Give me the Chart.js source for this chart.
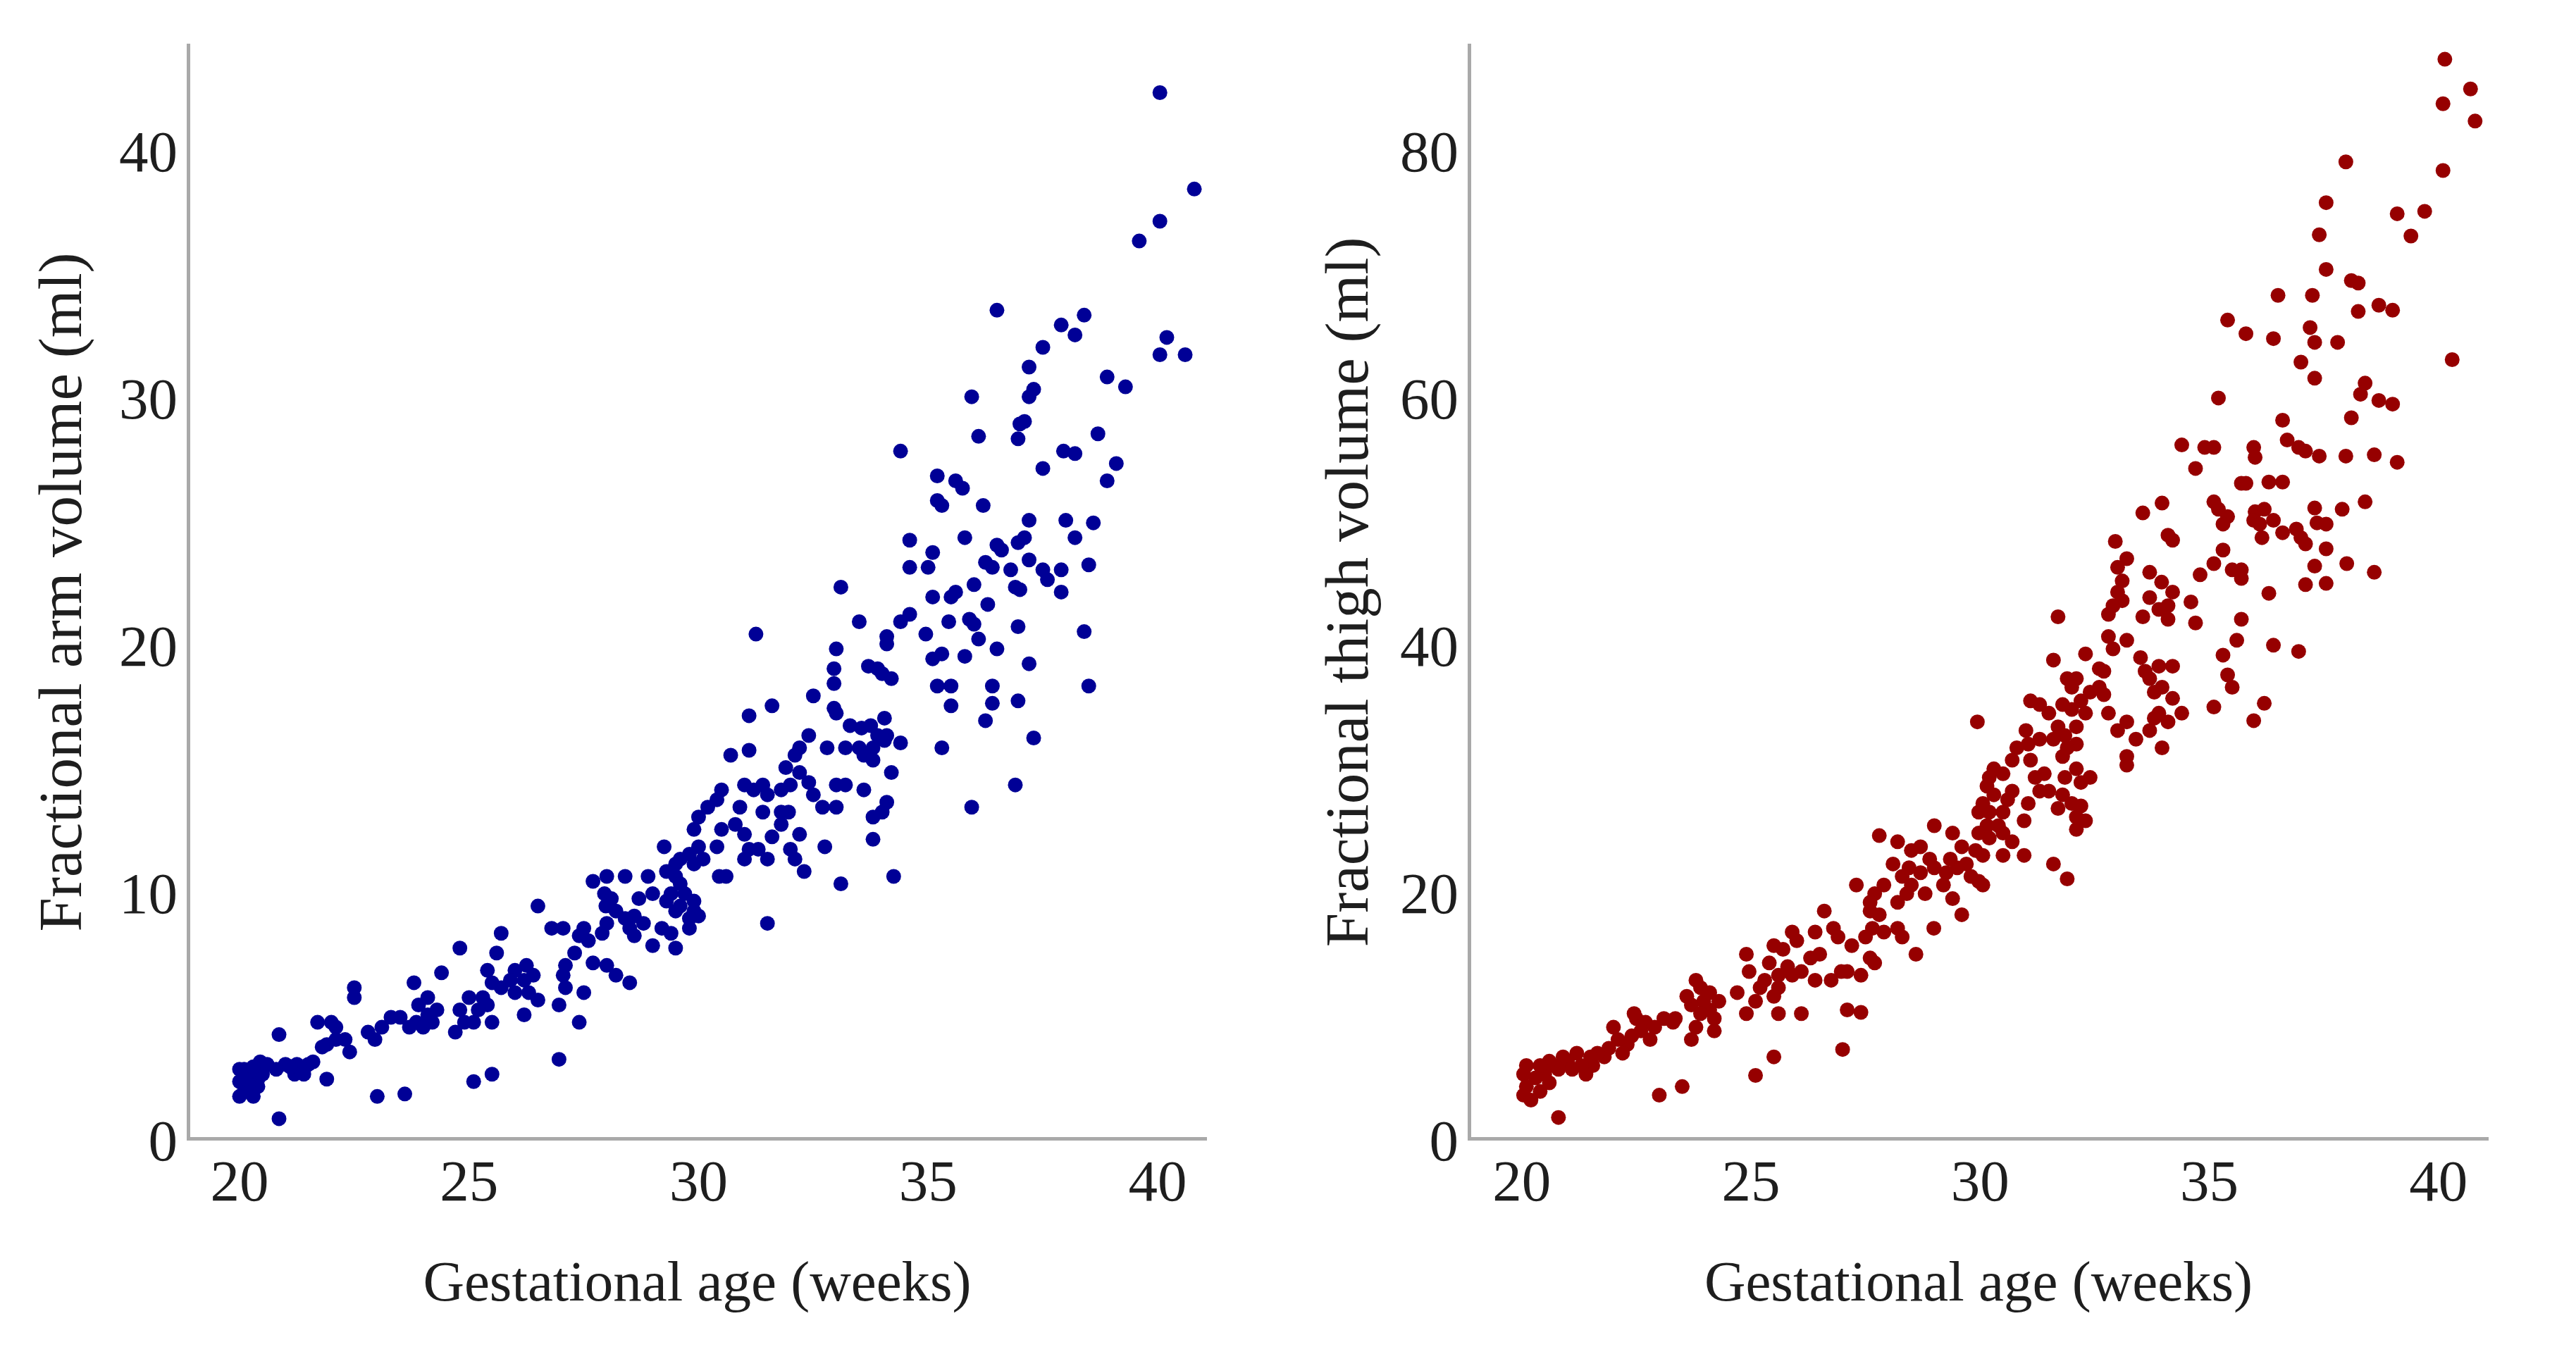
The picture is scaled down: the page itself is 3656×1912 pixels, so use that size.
<!DOCTYPE html>
<html><head><meta charset="utf-8">
<script src="https://cdn.jsdelivr.net/npm/chart.js@4.4.0/dist/chart.umd.min.js"></script>
<style>
html,body{margin:0;padding:0;background:#fff;}
#wrap{position:relative;width:3656px;height:1912px;background:#fff;}
.panel{position:absolute;top:0;width:1828px;height:1912px;}
</style></head><body>
<div id="wrap">
<div class="panel" style="left:0"><canvas id="c1" width="1828" height="1912"></canvas></div>
<div class="panel" style="left:1828px"><canvas id="c2" width="1828" height="1912"></canvas></div>
</div>
<script>
const ageTicks = [20, 25, 30, 35, 40];
const armTicks = [0, 10, 20, 30, 40];
const thighTicks = [0, 20, 40, 60, 80];
const xTitle = 'Gestational age (weeks)';
const armTitle = 'Fractional arm volume (ml)';
const thighTitle = 'Fractional thigh volume (ml)';

const armAge = [40.05,40.8,39.6,40.05,40.2,40.05,40.6,38.9,39.3,38.7,39.1,38.9,36.5,38.4,37.9,38.2,37.5,37.2,37.3,37.2,37.1,37.0,36.96,35.95,36.1,34.4,37.95,38.2,37.5,35.2,35.6,35.75,35.2,35.3,36.2,37.2,38.0,38.6,35.8,36.96,37.1,38.2,34.6,35.1,36.5,36.6,34.6,35.0,36.25,36.4,36.8,37.2,37.5,38.5,37.9,37.6,36.9,37.0,36.0,35.6,35.5,35.1,36.3,37.9,35.9,35.45,34.95,34.6,34.4,36.96,36.0,36.1,38.4,35.1,35.3,35.8,36.5,35.2,35.5,36.4,35.5,36.4,37.2,38.5,36.96,36.25,37.3,35.3,35.95,36.9,
33.1,33.5,33.0,32.95,32.95,33.7,33.9,34.0,34.2,34.1,34.1,32.5,31.6,31.1,31.25,32.95,33.0,33.3,33.55,33.75,34.05,33.9,34.1,32.4,32.2,32.8,33.2,33.5,33.8,34.05,34.4,33.6,33.8,34.2,32.1,31.9,32.2,32.4,32.0,31.8,33.0,33.2,33.6,32.5,32.7,33.0,34.1,34.0,33.8,33.8,32.75,34.25,33.1,32.2,32.3,32.1,32.0,31.96,31.8,31.6,31.5,31.3,31.5,31.1,30.7,31.0,31.2,31.4,31.5,31.4,31.8,30.9,30.5,30.4,30.2,30.0,30.8,31.0,31.1,31.0,30.5,30.4,30.45,30.6,29.9,30.0,29.8,29.6,29.9,30.1,29.5,29.25,29.3,29.5,29.6,29.4,29.7,29.9,29.6,29.5,28.9,29.0,29.3,29.9,30.0,29.8,29.8,29.2,29.4,29.0,29.5,28.8,28.7,28.6,28.4,28.0,27.7,27.95,28.1,27.98,28.2,28.4,28.5,28.6,28.0,27.9,27.5,27.4,27.6,27.3,27.7,28.0,28.2,28.5,27.5,27.4,27.05,26.8,27.1,27.05,27.1,26.96,26.96,26.5,26.25,26.4,26.2,26.0,25.9,25.7,26.0,26.3,26.5,26.2,25.7,25.6,25.4,25.5,25.3,25.4,25.2,25.0,24.8,24.9,25.1,25.5,24.8,24.7,25.1,25.5,24.4,24.1,23.9,23.8,24.1,24.2,24.3,23.85,24.0,23.7,23.5,23.3,23.1,22.95,22.8,22.5,22.5,22.3,22.4,22.1,22.1,21.9,22.0,21.7,21.8,21.9,23.0,23.6,20.86,20.86,21.5,21.4,21.25,21.2,21.0,20.8,20.6,20.45,20.5,20.4,20.2,20.1,20.0,20.1,20.3,20.0,20.4,20.0,20.2,20.1,20.3,21.6,21.1];
const armVolume = [42.3,38.4,36.3,37.1,32.4,31.7,31.7,30.8,30.4,28.5,27.3,26.6,33.5,33.3,32.9,32.5,32.0,31.2,30.3,30.0,29.0,28.9,28.3,30.0,28.4,27.8,27.8,27.7,27.1,26.8,26.6,26.3,25.8,25.6,25.6,25.0,25.0,24.9,24.3,24.1,24.3,24.3,24.2,23.7,24.0,23.8,23.1,23.1,23.3,23.1,23.0,23.4,23.0,23.2,23.0,22.6,22.3,22.2,22.4,22.1,21.9,21.9,21.6,22.1,21.0,20.9,20.4,21.2,20.9,20.7,20.8,20.2,20.5,19.4,19.6,19.5,19.8,18.3,18.3,18.3,17.5,17.6,19.2,18.3,17.7,16.9,16.2,15.8,13.4,14.3,
22.3,20.9,19.8,19.0,18.4,19.1,19.0,18.8,18.6,20.3,20.0,17.9,17.5,17.1,20.4,17.4,17.2,16.7,16.6,16.7,17.0,16.3,16.3,16.3,15.8,15.8,15.8,15.8,15.8,16.1,16.0,15.5,15.3,14.8,15.5,15.0,14.8,14.4,14.3,14.1,14.3,14.3,14.1,13.9,13.4,13.4,13.6,13.2,13.0,12.1,11.8,10.6,10.3,12.3,10.8,11.3,11.7,13.2,12.7,12.2,11.3,11.7,8.7,15.7,15.5,14.3,14.1,14.3,13.9,13.2,13.2,13.4,14.1,13.7,13.4,13.0,12.7,12.3,11.7,11.3,12.5,11.8,10.6,10.6,12.5,11.8,11.5,11.3,11.1,11.3,11.1,11.8,10.8,10.6,10.3,9.9,9.9,9.6,9.4,9.2,10.6,9.9,9.6,9.2,9.0,8.9,8.5,8.5,8.3,7.8,7.7,8.7,9.7,9.0,10.6,10.6,10.4,9.9,9.7,9.4,9.2,8.9,8.5,8.2,8.7,8.3,8.5,8.2,8.0,7.5,7.1,7.0,6.6,6.3,5.9,4.7,8.5,8.5,7.0,6.6,6.1,5.4,3.2,9.4,7.0,6.6,6.4,6.8,6.4,6.1,5.9,5.9,5.6,5.0,8.3,7.5,6.8,6.3,5.7,5.4,5.2,5.7,5.2,4.7,4.7,4.7,7.7,4.3,2.3,2.6,6.7,5.7,5.4,6.3,5.0,4.7,5.2,4.7,4.5,4.5,4.9,4.9,4.5,4.0,4.3,6.1,5.7,4.0,3.5,4.5,4.0,3.8,4.7,4.7,3.7,2.4,1.7,1.8,0.8,4.2,3.0,2.6,3.0,2.6,3.0,2.8,3.0,3.1,2.6,2.4,2.6,2.8,2.3,1.9,1.7,1.7,2.1,2.8,2.2,2.4,2.9,3.1,2.9];

const thighAge = [40.14,40.7,40.1,40.8,40.1,40.3,37.98,37.55,39.1,39.7,39.4,37.4,37.55,38.1,38.25,37.25,36.5,38.25,38.7,39.0,35.4,35.8,36.4,37.2,37.3,37.8,37.0,37.3,35.2,38.4,38.3,38.7,39.0,36.6,38.1,36.7,34.4,34.9,35.1,35.97,36.0,36.95,37.1,37.4,37.98,38.6,39.1,34.7,35.7,35.8,36.3,36.6,33.97,33.55,35.1,35.2,36.0,36.2,37.3,37.9,38.4,35.4,35.3,35.97,36.1,36.4,36.9,37.35,37.55,36.6,36.15,37.0,37.1,37.55,38.0,38.6,37.3,37.1,37.55,35.3,35.1,34.8,35.5,35.7,35.7,36.3,36.4,36.95,35.7,35.6,35.3,35.4,35.5,35.1,36.2,35.97,
34.6,34.7,34.1,34.2,33.7,33.96,34.1,34.2,33.7,33.9,34.1,33.55,33.0,33.1,32.9,33.1,32.95,33.2,33.0,32.8,32.8,33.2,32.9,32.6,32.7,32.6,33.5,33.6,33.7,33.9,34.2,33.8,33.97,34.2,33.9,33.8,34.4,34.1,33.97,33.7,33.2,33.0,32.8,32.7,32.4,33.2,33.2,33.4,31.7,31.6,32.3,32.1,31.9,32.0,32.2,32.3,32.0,31.8,31.3,31.1,31.5,31.7,31.85,32.1,32.1,31.9,31.8,31.6,31.3,31.0,31.05,30.8,30.7,31.1,31.4,31.85,32.1,32.2,32.4,31.2,31.3,31.8,32.0,32.2,32.1,32.3,32.1,31.7,31.5,31.05,30.96,31.6,31.9,
29.94,30.3,30.2,30.5,30.7,30.6,30.3,30.15,30.06,29.97,30.2,30.5,30.4,30.15,29.97,30.2,30.5,30.7,30.96,30.5,30.06,29.9,29.6,29.4,29.7,29.97,30.06,29.8,29.5,29.35,29.26,29.2,29.4,29.6,29.0,29.0,28.7,28.5,28.9,28.7,28.45,28.3,28.5,28.8,28.99,28.4,28.2,28.1,28.2,27.8,27.9,27.7,27.6,27.6,27.8,27.65,28.2,27.9,27.5,27.6,27.7,27.2,27.1,27.3,28.3,28.6,27.4,26.97,26.75,26.6,26.8,26.4,26.5,26.3,26.1,26.4,26.0,25.9,25.7,25.9,26.1,25.8,25.5,25.4,25.6,25.6,25.5,25.6,25.3,25.2,25.1,24.96,24.9,24.9,24.7,25.5,25.1,27.0,27.1,27.4,26.9,
24.3,24.2,24.2,24.1,23.97,23.9,23.8,24.1,23.7,23.9,23.8,23.7,23.6,23.35,23.3,23.1,22.9,22.7,22.6,22.8,22.5,22.45,22.4,22.3,22.1,22.0,21.9,22.2,21.8,21.65,21.55,21.5,21.4,21.3,21.2,21.1,21.0,20.9,20.8,20.7,20.6,20.5,20.4,20.3,20.1,20.04,20.1,20.04,20.2,20.4,20.6,20.8,23.0,23.5];
const thighVolume = [87.3,84.9,83.7,82.3,78.3,63.0,79.0,75.7,74.8,75.0,73.0,73.1,70.3,69.4,69.2,68.2,68.2,66.9,67.4,67.0,66.2,65.1,64.7,65.6,64.4,64.4,62.8,61.5,59.9,61.1,60.2,59.7,59.4,58.1,58.3,56.5,56.1,55.9,55.9,55.9,55.1,55.9,55.6,55.2,55.2,55.3,54.7,54.2,53.0,53.0,53.1,53.1,51.4,50.6,51.5,50.9,50.7,50.9,51.0,50.9,51.5,50.3,49.7,50.0,49.7,50.0,49.3,49.8,49.7,49.0,48.6,48.6,48.1,47.7,46.5,45.8,46.3,44.8,44.9,47.6,46.5,45.6,46.0,46.0,45.3,44.1,39.9,39.4,42.0,40.3,39.1,37.5,36.5,34.9,35.2,33.8,
43.4,41.7,43.1,44.2,45.8,45.0,48.8,48.4,43.75,42.8,42.0,42.2,44.2,43.5,43.1,45.1,48.3,46.9,46.2,42.4,40.6,40.3,39.6,38.0,37.8,36.5,38.9,37.8,37.2,38.2,38.2,36.1,36.5,35.6,34.4,34.0,34.4,33.7,31.6,33.0,33.7,33.0,34.4,35.9,36.1,30.2,30.9,32.3,42.2,38.7,39.2,37.2,37.2,36.5,35.4,34.4,34.7,35.1,35.1,35.4,34.4,33.3,32.6,33.3,31.9,31.6,30.9,32.3,32.3,33.0,31.9,31.6,30.6,30.6,29.5,29.2,29.9,28.8,29.2,29.2,28.1,27.8,27.1,26.9,26.0,25.7,25.0,26.7,28.1,27.1,25.7,22.2,21.0,
33.7,29.9,29.2,29.5,28.1,27.4,27.8,28.5,27.1,26.4,26.4,26.4,25.3,25.3,24.7,24.3,24.7,24.0,22.9,22.9,22.9,23.3,23.6,24.7,22.2,20.8,20.5,21.2,21.9,22.6,21.5,20.5,19.4,18.1,21.9,25.3,23.6,23.3,22.6,21.5,21.9,21.2,20.5,19.8,17.0,19.8,19.1,22.2,24.0,24.5,20.5,19.8,19.1,18.4,18.1,17.0,17.0,16.7,16.3,14.6,14.2,15.6,13.5,20.5,16.3,14.9,13.2,13.5,12.8,18.4,17.0,16.7,14.9,14.6,13.5,12.8,16.0,16.7,15.3,13.2,10.1,13.9,15.6,14.2,13.2,12.2,11.5,10.1,12.8,12.2,11.1,13.5,14.9,10.1,11.8,6.6,5.1,7.2,10.4,10.2,16.3,
11.1,9.7,8.7,10.4,11.1,12.2,12.8,11.8,10.8,10.1,9.0,8.0,11.5,9.7,9.4,9.7,9.0,9.4,8.7,8.0,9.7,10.1,8.3,7.6,8.0,9.0,7.3,6.9,6.6,6.9,5.9,6.6,5.2,5.9,6.9,5.6,6.25,6.6,5.6,5.9,6.25,5.2,5.9,4.9,5.9,5.2,4.2,3.5,3.1,3.8,4.5,1.7,3.5,4.2];

function buildPoints(xs, ys) {
  const n = Math.min(xs.length, ys.length);
  const out = [];
  for (let i = 0; i < n; i++) out.push({x: xs[i], y: ys[i]});
  return out;
}

const FONT = '"Liberation Serif", "Times New Roman", serif';
const TXT = '#1e1e1e';
const AXIS = '#a9a9a9';

function makeChart(id, xs, ys, color, yTicks, yMax, xMin, xMax, yTitle, yAxisWidth, padRight, yTitlePad) {
  return new Chart(document.getElementById(id), {
    type: 'scatter',
    data: { datasets: [{ data: buildPoints(xs, ys), backgroundColor: color, borderColor: color, borderWidth: 0, pointRadius: 10.5, pointHoverRadius: 10.5 }] },
    options: {
      responsive: false, animation: false, devicePixelRatio: 1,
      layout: { padding: { top: 55, right: padRight, left: 0, bottom: 0 } },
      plugins: { legend: { display: false }, tooltip: { enabled: false } },
      events: [],
      scales: {
        x: {
          type: 'linear', min: xMin, max: xMax,
          afterBuildTicks: s => { s.ticks = ageTicks.map(v => ({ value: v })); },
          afterFit: s => { s.height = 296; },
          grid: { display: false, drawTicks: false },
          border: { display: true, color: AXIS, width: 5 },
          ticks: { font: { family: FONT, size: 83 }, color: TXT, padding: 16, maxRotation: 0, autoSkip: false },
          title: { display: true, text: xTitle, font: { family: FONT, size: 81 }, color: TXT, padding: { top: 0, bottom: 39 } }
        },
        y: {
          type: 'linear', min: 0, max: yMax,
          afterBuildTicks: s => { s.ticks = yTicks.map(v => ({ value: v })); },
          afterFit: s => { s.width = yAxisWidth; },
          grid: { display: false, drawTicks: false },
          border: { display: true, color: AXIS, width: 5 },
          ticks: { font: { family: FONT, size: 83 }, color: TXT, padding: 15, labelOffset: 9 },
          title: { display: true, text: yTitle, font: { family: FONT, size: 87 }, color: TXT, padding: { top: yTitlePad, bottom: 0 } }
        }
      }
    }
  });
}

makeChart('c1', armAge, armVolume, '#000096', armTicks, 44.2, 18.88, 41.06, armTitle, 267, 1828 - 1712, 40);
makeChart('c2', thighAge, thighVolume, '#960000', thighTicks, 88.4, 18.85, 41.08, thighTitle, 257, 1828 - 1703, 38);
</script>
</body></html>
